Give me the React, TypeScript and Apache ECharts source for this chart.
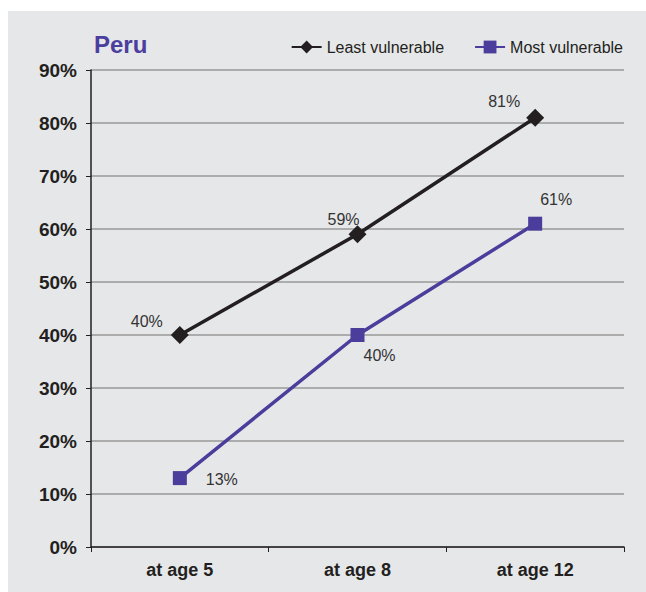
import React, { useEffect, useRef } from "react";
import * as echarts from "echarts";

const categories = ["at age 5", "at age 8", "at age 12"];
const leastVulnerable = [40, 59, 81];
const mostVulnerable = [13, 40, 61];
const yTicks = [0, 10, 20, 30, 40, 50, 60, 70, 80, 90];

const FONT = "'Liberation Sans Narrow', 'Arial Narrow', 'Liberation Sans', Arial, sans-serif";
const BLACK = "#231f20";
const PURPLE = "#4a3d9b";

const leastOffsets = [[-33, -14], [-14, -15], [-31, -16]];
const mostOffsets = [[42, 1], [22, 20], [21, -24]];

export default function App() {
  const ref = useRef<HTMLDivElement>(null);
  useEffect(() => {
    document.body.style.margin = "0";
    const chart = echarts.init(ref.current!, undefined, { renderer: "svg" });
    const labelStyle = { fontFamily: FONT, fontSize: 16, color: "#333" };
    chart.setOption({
      animation: false,
      backgroundColor: "#ffffff",
      graphic: [
        { type: "rect", left: 8, top: 11, shape: { width: 638, height: 581 }, style: { fill: "#e6e7e9" }, z: -10 },
      ],
      title: {
        text: "Peru",
        left: 89,
        top: 27,
        textStyle: { color: "#4b3f9e", fontFamily: FONT, fontSize: 24, fontWeight: "bold" },
      },
      legend: {
        right: 18,
        top: 34,
        itemWidth: 30,
        itemHeight: 16,
        itemGap: 30,
        textStyle: { fontFamily: FONT, fontSize: 16, color: BLACK },
        data: ["Least vulnerable", "Most vulnerable"],
      },
      grid: { left: 91, right: 22, top: 70, bottom: 45 },
      xAxis: {
        type: "category",
        data: categories,
        boundaryGap: true,
        axisLine: { lineStyle: { color: BLACK, width: 1.5 } },
        axisTick: { show: true, length: 5, lineStyle: { color: BLACK } },
        axisLabel: { fontFamily: FONT, fontSize: 18, fontWeight: "bold", color: BLACK, margin: 14 },
      },
      yAxis: {
        type: "value",
        min: 0,
        max: 90,
        interval: 10,
        axisLine: { show: true, lineStyle: { color: BLACK, width: 1.5 } },
        axisTick: { show: true, length: 5, lineStyle: { color: BLACK } },
        splitLine: { lineStyle: { color: "#999999", width: 1.5 } },
        axisLabel: {
          fontFamily: FONT,
          fontSize: 19,
          fontWeight: "bold",
          color: BLACK,
          margin: 14,
          formatter: (v: number) => (yTicks.includes(v) ? v + "%" : ""),
        },
      },
      series: [
        {
          name: "Least vulnerable",
          type: "line",
          data: leastVulnerable.map((v, i) => ({
            value: v,
            label: { offset: leastOffsets[i] },
          })),
          symbol: "diamond",
          symbolSize: 18,
          lineStyle: { color: BLACK, width: 3.5 },
          itemStyle: { color: BLACK },
          label: { show: true, position: "inside", formatter: "{c}%", ...labelStyle },
        },
        {
          name: "Most vulnerable",
          type: "line",
          data: mostVulnerable.map((v, i) => ({
            value: v,
            label: { offset: mostOffsets[i] },
          })),
          symbol: "rect",
          symbolSize: 14,
          lineStyle: { color: PURPLE, width: 3.5 },
          itemStyle: { color: PURPLE },
          label: { show: true, position: "inside", formatter: "{c}%", ...labelStyle },
        },
      ],
    });
    return () => chart.dispose();
  }, []);
  return <div ref={ref} style={{ width: 646, height: 592 }} />;
}
